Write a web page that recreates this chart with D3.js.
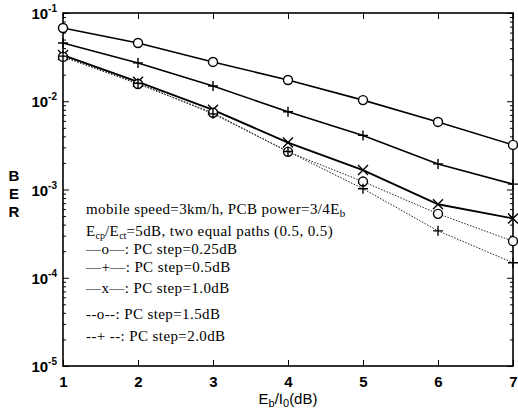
<!DOCTYPE html>
<html>
<head>
<meta charset="utf-8">
<script src="https://cdn.jsdelivr.net/npm/d3@7"></script>
<style>
  body { margin: 0; background: #fff; }
  svg { display: block; }
</style>
</head>
<body>
<div id="chart"></div>
<script>
// Eb/I0 (dB)
const ebno = [1, 2, 3, 4, 5, 6, 7];

// BER per power control step
const step025 = [0.0676, 0.0457, 0.0279, 0.0174, 0.0103, 0.00583, 0.0032];
const step05  = [0.0457, 0.0272, 0.0149, 0.0076, 0.0041, 0.00195, 0.00115];
const step10  = [0.0334, 0.0166, 0.0080, 0.0034, 0.00166, 0.00068, 0.00047];
const step15  = [0.0318, 0.0157, 0.0074, 0.00267, 0.00123, 0.00053, 0.00026];
const step20  = [0.0325, 0.0160, 0.0072, 0.0027, 0.00102, 0.00034, 0.000148];

const xTicks = [1, 2, 3, 4, 5, 6, 7];
const yExps = [-1, -2, -3, -4, -5];

const series = [
  { values: step025, marker: "o", dash: null, width: 1.6 },
  { values: step05,  marker: "+", dash: null, width: 1.6 },
  { values: step10,  marker: "x", dash: null, width: 1.9 },
  { values: step15,  marker: "o", dash: "1.5,1.5", width: 1 },
  { values: step20,  marker: "+", dash: "1.5,1.5", width: 1 }
];

const W = 518, H = 413;
const mLeft = 63, mRight = 513, mTop = 13, mBottom = 366;

const svg = d3.select("#chart").append("svg")
    .attr("width", W)
    .attr("height", H);

const x = d3.scaleLinear().domain([1, 7]).range([mLeft, mRight]);
const y = d3.scaleLog().domain([1e-5, 1e-1]).range([mBottom, mTop]);

// minor log ticks
let minor = [];
for (let e = -5; e < -1; e++) {
  for (let m = 2; m <= 9; m++) minor.push(m * Math.pow(10, e));
}

svg.append("g")
    .attr("transform", "translate(" + mLeft + ",0)")
    .call(d3.axisLeft(y).tickValues(minor).tickSizeInner(-3).tickSizeOuter(0).tickFormat(""))
    .call(g => g.select(".domain").remove());
svg.append("g")
    .attr("transform", "translate(" + mRight + ",0)")
    .call(d3.axisRight(y).tickValues(minor).tickSizeInner(-3).tickSizeOuter(0).tickFormat(""))
    .call(g => g.select(".domain").remove());

// major y ticks + labels
svg.append("g")
    .attr("transform", "translate(" + mLeft + ",0)")
    .call(d3.axisLeft(y).tickValues(yExps.map(e => Math.pow(10, e))).tickSizeInner(-6).tickSizeOuter(0).tickFormat(""))
    .call(g => g.select(".domain").remove());
svg.append("g")
    .attr("transform", "translate(" + mRight + ",0)")
    .call(d3.axisRight(y).tickValues(yExps.map(e => Math.pow(10, e))).tickSizeInner(-6).tickSizeOuter(0).tickFormat(""))
    .call(g => g.select(".domain").remove());

yExps.forEach(e => {
  const t = svg.append("text")
      .attr("x", 57)
      .attr("y", y(Math.pow(10, e)) + 6)
      .attr("text-anchor", "end")
      .attr("font-family", "Liberation Sans, Arial, sans-serif")
      .attr("font-weight", "bold")
      .attr("font-size", 15);
  t.append("tspan").text("10");
  t.append("tspan").attr("dy", -7).attr("font-size", 10).text(e);
});

// x axis bottom and top
svg.append("g")
    .attr("transform", "translate(0," + mBottom + ")")
    .call(d3.axisBottom(x).tickValues(xTicks).tickSizeInner(-6).tickSizeOuter(0).tickPadding(10).tickFormat(d3.format("d")))
    .call(g => g.select(".domain").remove())
    .selectAll("text")
    .attr("font-family", "Liberation Sans, Arial, sans-serif")
    .attr("font-weight", "bold")
    .attr("font-size", 15)
    .attr("fill", "#000");
svg.append("g")
    .attr("transform", "translate(0," + mTop + ")")
    .call(d3.axisTop(x).tickValues(xTicks).tickSizeInner(-6).tickSizeOuter(0).tickFormat(""))
    .call(g => g.select(".domain").remove());

svg.selectAll(".tick line").attr("stroke", "#000").attr("stroke-width", 1);

// frame
svg.append("rect")
    .attr("x", mLeft).attr("y", mTop)
    .attr("width", mRight - mLeft).attr("height", mBottom - mTop)
    .attr("fill", "none").attr("stroke", "#000").attr("stroke-width", 1.6);

// lines
const line = d3.line()
    .x((d, i) => x(ebno[i]))
    .y(d => y(d));

series.forEach(s => {
  svg.append("path")
      .datum(s.values)
      .attr("fill", "none")
      .attr("stroke", s.dash ? "#222" : "#000")
      .attr("stroke-width", s.width)
      .attr("stroke-dasharray", s.dash)
      .attr("d", line);

  const g = svg.append("g").attr("stroke", "#000").attr("stroke-width", 1.4).attr("fill", "none");
  s.values.forEach((v, i) => {
    const cx = x(ebno[i]), cy = y(v);
    if (s.marker === "o") {
      g.append("circle").attr("cx", cx).attr("cy", cy).attr("r", 4.5).attr("fill", "#fff");
    } else if (s.marker === "+") {
      g.append("path").attr("d", `M${cx - 5},${cy}H${cx + 5}M${cx},${cy - 5}V${cy + 5}`);
    } else {
      g.append("path").attr("d", `M${cx - 5},${cy - 5}L${cx + 5},${cy + 5}M${cx - 5},${cy + 5}L${cx + 5},${cy - 5}`);
    }
  });
});

// annotation / legend text
const serif = "Liberation Serif, Times New Roman, serif";
const t1 = svg.append("text").attr("x", 86).attr("y", 214)
    .attr("font-family", serif).attr("font-size", 15).attr("letter-spacing", 0.4);
t1.append("tspan").text("mobile speed=3km/h, PCB power=3/4E");
t1.append("tspan").attr("dy", 3).attr("font-size", 11).text("b");

const t2 = svg.append("text").attr("x", 86).attr("y", 236)
    .attr("font-family", serif).attr("font-size", 15).attr("letter-spacing", 0.4);
t2.append("tspan").text("E");
t2.append("tspan").attr("dy", 3).attr("font-size", 10).attr("letter-spacing", 0).text("cp");
t2.append("tspan").attr("dy", -3).text("/E");
t2.append("tspan").attr("dy", 3).attr("font-size", 10).attr("letter-spacing", 0).text("ct");
t2.append("tspan").attr("dy", -3).text("=5dB, two equal paths (0.5, 0.5)");

const legendLabels = ["\u2014o\u2014: PC step=0.25dB", "\u2014+\u2014: PC step=0.5dB", "\u2014x\u2014: PC step=1.0dB",
  "--o--: PC step=1.5dB", "--+ --: PC step=2.0dB"];
const legendY = [254, 272, 293, 319, 341];

svg.selectAll(".leg")
    .data(legendLabels)
    .enter()
    .append("text")
    .attr("class", "leg")
    .attr("x", 86)
    .attr("y", (d, i) => legendY[i])
    .attr("font-family", serif)
    .attr("font-size", 15)
    .attr("letter-spacing", 0.4)
    .text(d => d);

// axis titles
["B", "E", "R"].forEach((c, i) => {
  svg.append("text")
      .attr("x", 14).attr("y", 181 + i * 18)
      .attr("text-anchor", "middle")
      .attr("font-family", "Liberation Sans, Arial, sans-serif")
      .attr("font-weight", "bold")
      .attr("font-size", 15)
      .text(c);
});

const xl = svg.append("text").attr("x", 288).attr("y", 404)
    .attr("text-anchor", "middle")
    .attr("font-family", "Liberation Sans, Arial, sans-serif")
    .attr("font-size", 15);
xl.append("tspan").text("E");
xl.append("tspan").attr("dy", 3).attr("font-size", 11).text("b");
xl.append("tspan").attr("dy", -3).text("/I");
xl.append("tspan").attr("dy", 3).attr("font-size", 11).text("0");
xl.append("tspan").attr("dy", -3).text("(dB)");
</script>
</body>
</html>
